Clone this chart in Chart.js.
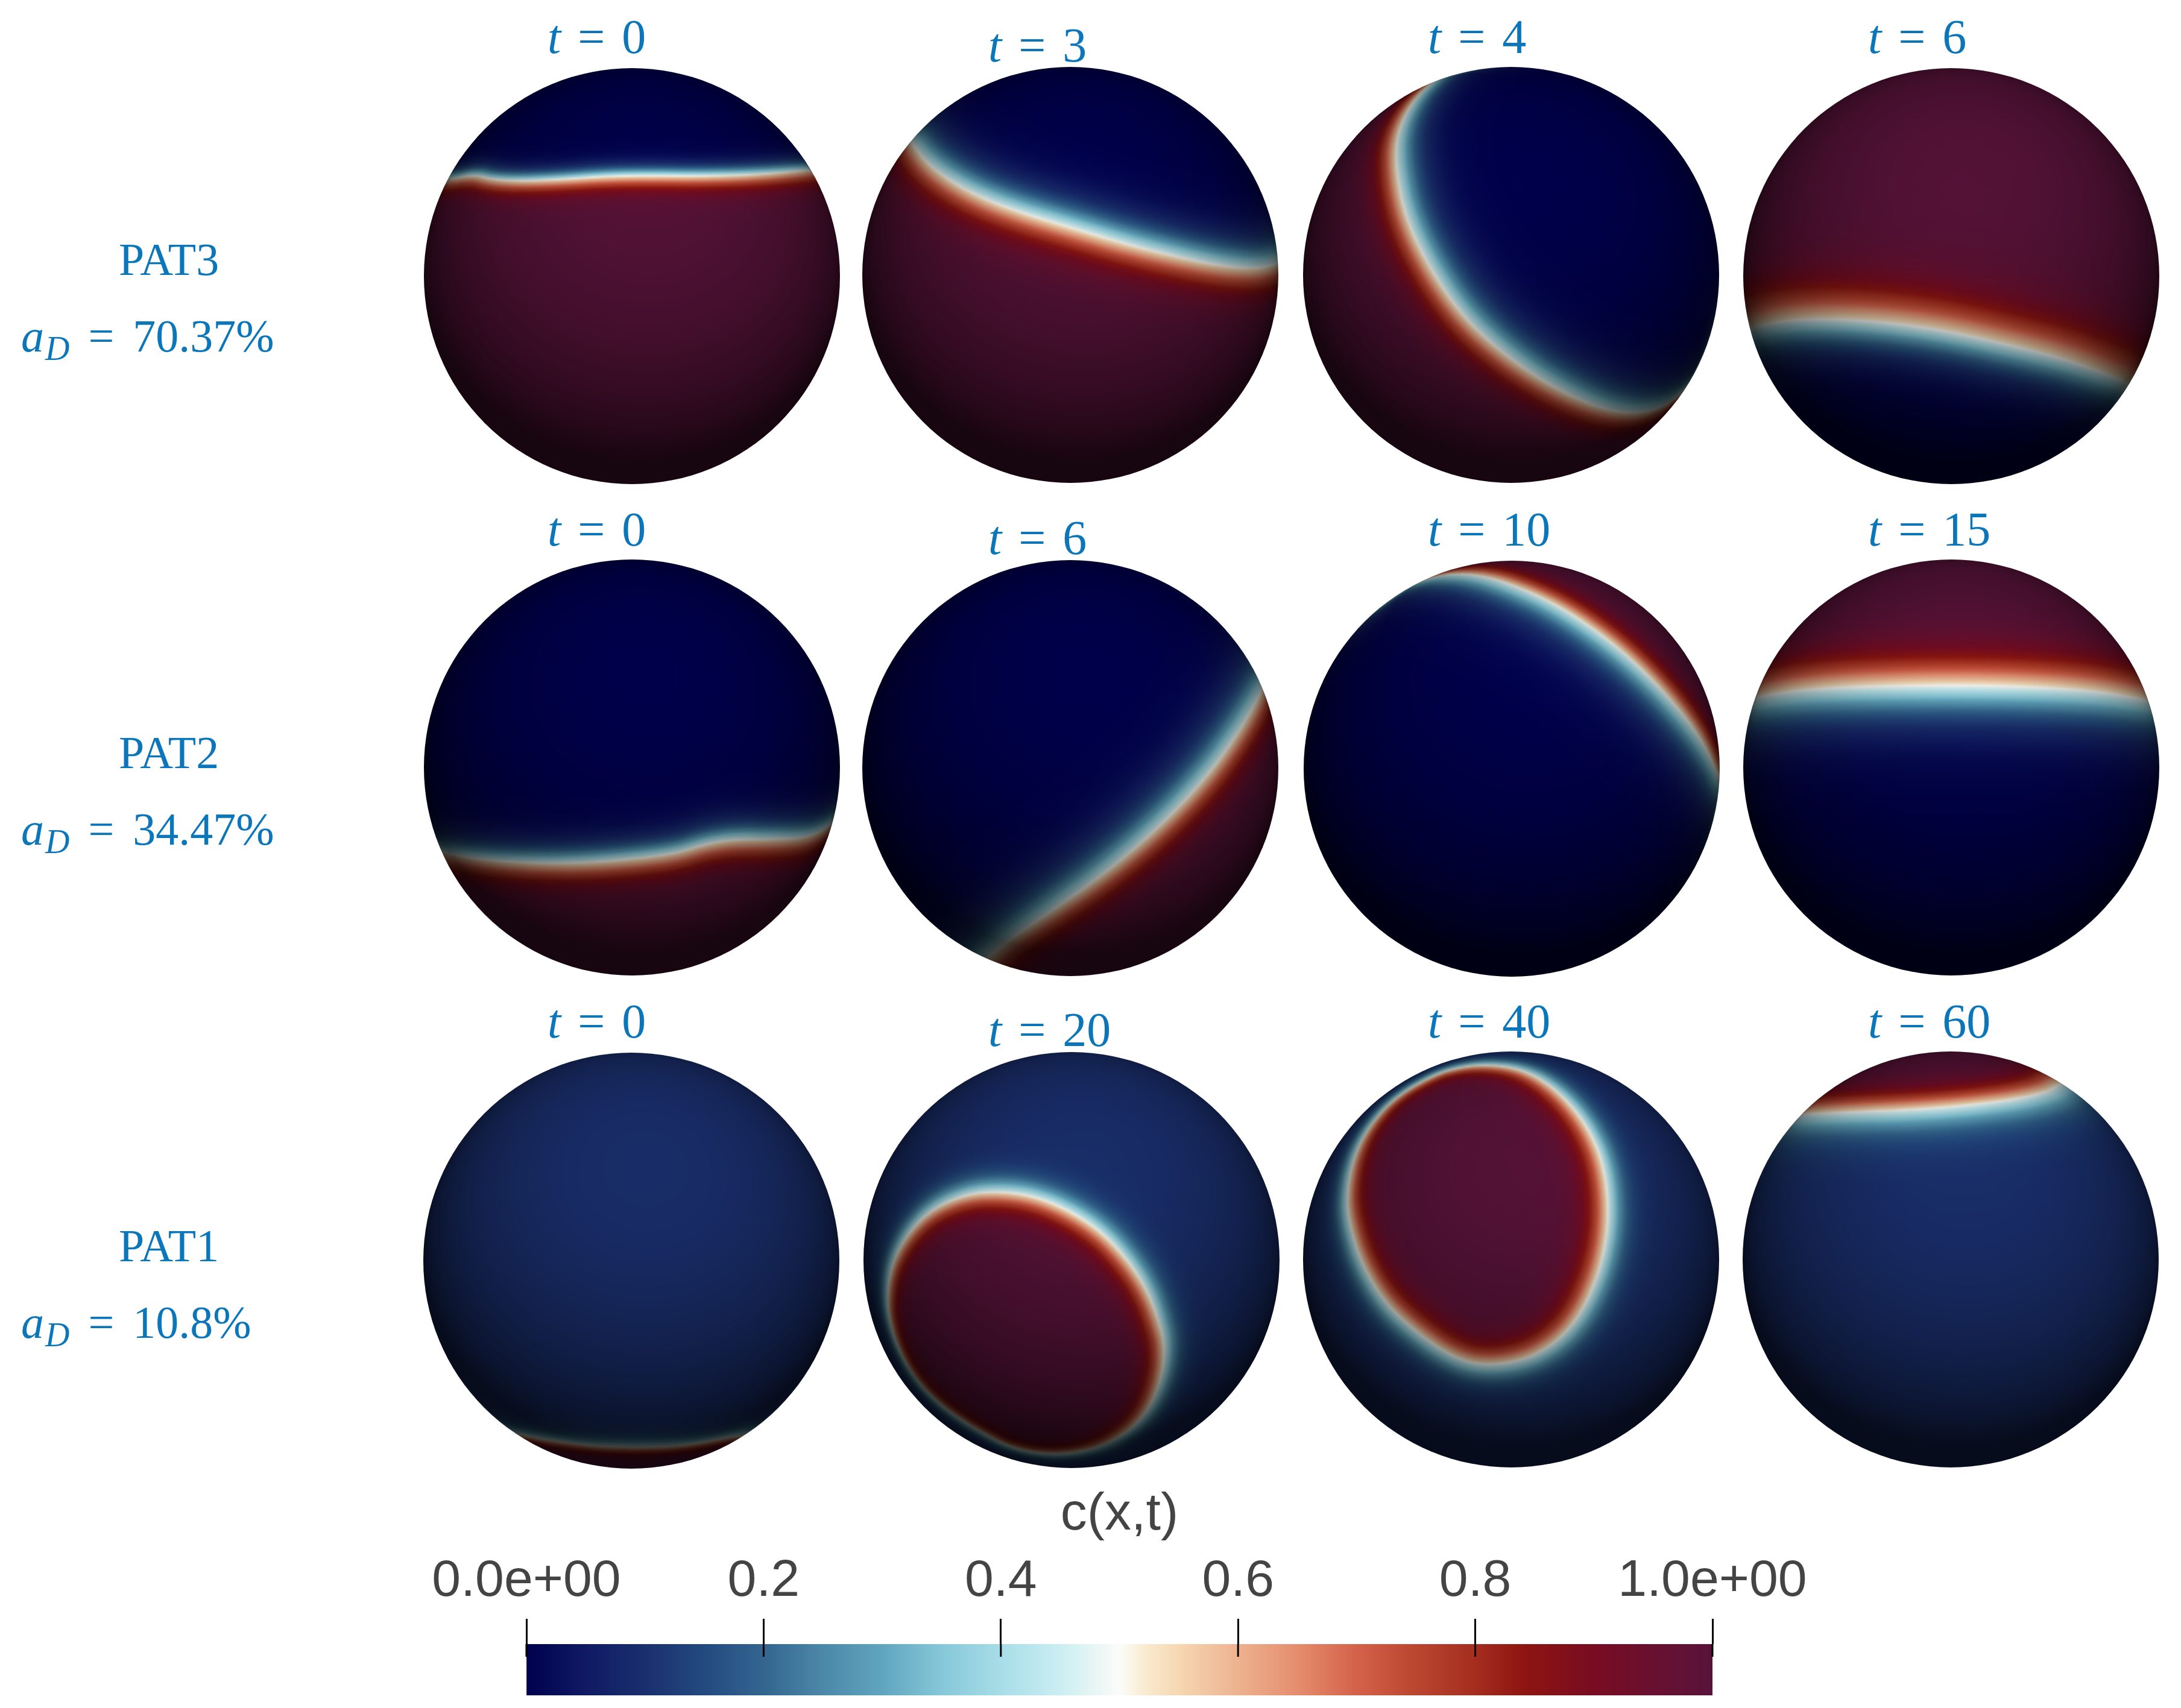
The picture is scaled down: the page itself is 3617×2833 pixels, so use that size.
<!DOCTYPE html>
<html>
<head>
<meta charset="utf-8">
<title>c(x,t) on the sphere</title>
<script src="https://cdn.jsdelivr.net/npm/chart.js@4/dist/chart.umd.min.js"></script>
<style>
    html, body { margin: 0; padding: 0; background: #fff; }
    #page { position: relative; width: 3617px; height: 2833px; overflow: hidden; }
    .globe { position: absolute; width: 690px; height: 690px; }
    .label { position: absolute; color: #0b76b9; font-family: "Liberation Serif", serif; font-size: 76px; line-height: 100px; white-space: pre; word-spacing: 12px; }
    .label.time { font-size: 80px; word-spacing: 8px; }
    .label sub { font-size: 56px; line-height: 0; vertical-align: baseline; position: relative; top: 14px; font-style: italic; margin-left: 2px; }
    #colorbar { position: absolute; left: 600px; top: 2460px; }
</style>
</head>
<body>
<div id="page"></div>
<script>
// Row labels, top row first
const patients = ['PAT3', 'PAT2', 'PAT1'];
const damagedAreas = ['70.37%', '34.47%', '10.8%'];
const times = [
    [0, 3, 4, 6],
    [0, 6, 10, 15],
    [0, 20, 40, 60]
];

// Background concentration of each row
const backgroundLevels = [0, 0, 0.1];

// The c = 0.5 front on each sphere (unit disc, y up)
const pat3Fronts = [
    [[-1.2, 0.44], [-0.875, 0.464], [-0.764, 0.487], [-0.667, 0.464], [-0.542, 0.457], [-0.347, 0.464], [-0.125, 0.48], [0.097, 0.483], [0.319, 0.48], [0.597, 0.487], [0.861, 0.51], [1.2, 0.53]],
    [[-1.0, 0.95], [-0.764, 0.636], [-0.694, 0.541], [-0.579, 0.452], [-0.426, 0.369], [-0.235, 0.298], [0.02, 0.222], [0.276, 0.145], [0.531, 0.082], [0.722, 0.043], [0.888, 0.028], [0.99, 0.05], [1.2, 0.15]],
    [[-0.2, 1.15], [-0.35, 0.951], [-0.475, 0.838], [-0.553, 0.671], [-0.553, 0.489], [-0.503, 0.261], [-0.392, 0.033], [-0.239, -0.194], [-0.044, -0.376], [0.178, -0.528], [0.4, -0.634], [0.567, -0.668], [0.706, -0.649], [0.817, -0.574], [1.1, -0.3]],
    [[-1.2, -0.28], [-0.969, -0.25], [-0.802, -0.212], [-0.579, -0.205], [-0.329, -0.22], [-0.05, -0.258], [0.228, -0.319], [0.507, -0.387], [0.702, -0.455], [0.855, -0.516], [1.2, -0.72]]
];
const pat2Fronts = [
    [[-1.2, -0.38], [-0.911, -0.405], [-0.786, -0.435], [-0.564, -0.457], [-0.286, -0.462], [-0.008, -0.442], [0.214, -0.413], [0.353, -0.368], [0.492, -0.346], [0.658, -0.346], [0.825, -0.339], [0.908, -0.309], [0.964, -0.265], [1.2, -0.1]],
    [[1.1, 0.8], [0.93, 0.386], [0.825, 0.194], [0.657, -0.043], [0.433, -0.28], [0.156, -0.516], [-0.123, -0.709], [-0.4, -0.901], [-0.6, -1.15]],
    [[-0.6, 0.85], [-0.408, 0.913], [-0.297, 0.938], [-0.131, 0.928], [0.064, 0.861], [0.258, 0.765], [0.481, 0.609], [0.675, 0.432], [0.842, 0.24], [0.939, 0.092], [0.994, -0.041], [1.15, -0.35]],
    [[-1.2, 0.28], [-0.942, 0.337], [-0.747, 0.371], [-0.468, 0.389], [0.006, 0.396], [0.368, 0.389], [0.702, 0.367], [0.953, 0.322], [1.2, 0.26]]
];
const pat1Fronts = [
    [[-1.2, -0.7], [-0.533, -0.836], [-0.394, -0.865], [-0.172, -0.892], [0.05, -0.898], [0.272, -0.888], [0.536, -0.836], [1.2, -0.7]],
    [[-0.337, 0.33], [-0.171, 0.305], [-0.005, 0.235], [0.148, 0.133], [0.276, -0.008], [0.365, -0.148], [0.422, -0.301], [0.448, -0.416], [0.435, -0.556], [0.378, -0.709], [0.276, -0.824], [0.122, -0.907], [-0.082, -0.939], [-0.286, -0.907], [-0.464, -0.811], [-0.617, -0.709], [-0.745, -0.582], [-0.834, -0.429], [-0.879, -0.276], [-0.885, -0.148], [-0.86, -0.008], [-0.783, 0.133], [-0.668, 0.247], [-0.503, 0.318], [-0.337, 0.33]],
    [[-0.12, 0.936], [0.02, 0.921], [0.148, 0.866], [0.276, 0.758], [0.378, 0.617], [0.441, 0.464], [0.467, 0.286], [0.46, 0.107], [0.416, -0.084], [0.327, -0.276], [0.212, -0.403], [0.059, -0.486], [-0.133, -0.511], [-0.286, -0.467], [-0.452, -0.352], [-0.605, -0.212], [-0.719, -0.02], [-0.777, 0.171], [-0.79, 0.311], [-0.758, 0.49], [-0.681, 0.643], [-0.554, 0.783], [-0.362, 0.892], [-0.235, 0.926], [-0.12, 0.936]],
    [[-1.2, 0.68], [-0.733, 0.697], [-0.468, 0.709], [-0.189, 0.719], [0.089, 0.741], [0.368, 0.778], [0.549, 0.837], [0.8, 1.2]]
];

// Corners that close each front around the high concentration side
const pat3Caps = [
    [[1.3, -1.3], [-1.3, -1.3]],
    [[1.3, -1.3], [-1.3, -1.3], [-1.3, 0.95]],
    [[1.3, -1.3], [-1.3, -1.3], [-1.3, 1.3]],
    [[1.3, 1.3], [-1.3, 1.3]]
];
const pat2Caps = [
    [[1.3, -1.3], [-1.3, -1.3]],
    [[1.3, -1.3], [1.3, 0.8]],
    [[1.3, -0.35], [1.3, 1.3], [-0.6, 1.3]],
    [[1.3, 1.3], [-1.3, 1.3]]
];
const pat1Caps = [
    [[1.3, -1.3], [-1.3, -1.3]],
    [],
    [],
    [[0.8, 1.3], [-1.3, 1.3]]
];

// Front widths on the surface, high and low side
const pat3Widths = [[0.08, 0.065], [0.13, 0.14], [0.13, 0.15], [0.19, 0.16]];
const pat2Widths = [[0.12, 0.1], [0.14, 0.16], [0.15, 0.19], [0.19, 0.19]];
const pat1Widths = [[0.1, 0.09], [0.1, 0.09], [0.12, 0.11], [0.16, 0.16]];

const frontsByRow = [pat3Fronts, pat2Fronts, pat1Fronts];
const capsByRow = [pat3Caps, pat2Caps, pat1Caps];
const widthsByRow = [pat3Widths, pat2Widths, pat1Widths];

// Colour bar
const colorbarTicks = [0, 0.2, 0.4, 0.6, 0.8, 1];
const colorbarTickLabels = ['0.0e+00', '0.2', '0.4', '0.6', '0.8', '1.0e+00'];
const colorPositions = [0, 0.05, 0.1, 0.15, 0.2, 0.25, 0.3, 0.35, 0.4, 0.45, 0.48, 0.5, 0.52, 0.55, 0.6, 0.65, 0.7, 0.75, 0.8, 0.84, 0.9, 0.95, 1];
const colorValues = ['#00004f', '#0f1a63', '#1a2f6e', '#234a80', '#33658f', '#4c88a8', '#60a5bf', '#86c8d9', '#a8dde8', '#cbeef2', '#e8f6f4', '#fcfcfa', '#faecd2', '#f6d7b2', '#eeb28f', '#e58d6e', '#d4614a', '#bb4630', '#a42d1f', '#8e1511', '#780c22', '#691030', '#58133a'];

// Sphere centres on the page
const columnCenters = [[1048, 1775, 2506, 3236], [1048, 1775, 2507, 3236], [1047, 1777, 2506, 3235]];
const rowCenters = [[458, 456, 456, 458], [1273, 1274, 1275, 1273], [2091, 2090, 2089, 2089]];
const timeLabelLeft = [908, 1639, 2368, 3098];
const timeLabelBaseline = [[88, 102, 88, 88], [905, 919, 905, 905], [1721, 1735, 1721, 1721]];
const rowLabelBaseline = [456, 1274, 2092];
const areaLabelBaseline = [583, 1401, 2219];

const page = document.getElementById('page');
const LIGHT = [0.07, 0.45, 0.89];

const colorLut = (() => {
    const rgb = colorValues.map(c => [1, 3, 5].map(i => parseInt(c.substr(i, 2), 16)));
    const lut = [];
    for (let n = 0; n <= 1000; n++) {
        const c = n / 1000;
        let i = 0;
        while (i < colorPositions.length - 2 && c > colorPositions[i + 1]) i++;
        const k = (c - colorPositions[i]) / (colorPositions[i + 1] - colorPositions[i]);
        lut.push(rgb[i].map((v, j) => v + (rgb[i + 1][j] - v) * k));
    }
    return lut;
})();

// Rounds the polyline, closed loops stay closed
const smoothFront = (points) => {
    let line = points.map(p => [p.x, p.y]);
    const last = line[line.length - 1];
    const closed = line[0][0] === last[0] && line[0][1] === last[1];
    for (let pass = 0; pass < 3; pass++) {
        const next = closed ? [] : [line[0]];
        for (let i = 0; i < line.length - 1; i++) {
            const a = line[i], b = line[i + 1];
            next.push([a[0] * 0.75 + b[0] * 0.25, a[1] * 0.75 + b[1] * 0.25]);
            next.push([a[0] * 0.25 + b[0] * 0.75, a[1] * 0.25 + b[1] * 0.75]);
        }
        next.push(closed ? next[0] : line[line.length - 1]);
        line = next;
    }
    return line;
};

const insidePolygon = (x, y, poly) => {
    let inside = false;
    for (let i = 0, j = poly.length - 1; i < poly.length; j = i++) {
        const a = poly[i], b = poly[j];
        if ((a[1] > y) !== (b[1] > y) && x < (b[0] - a[0]) * (y - a[1]) / (b[1] - a[1]) + a[0]) inside = !inside;
    }
    return inside;
};

const surfaceZ = (x, y) => Math.sqrt(Math.max(0, 1 - x * x - y * y));

// Distance measured on the sphere, so fronts thin out towards the limb
const distanceToLine = (x, y, z, line) => {
    let best = Infinity;
    for (let i = 0; i < line.length - 1; i++) {
        const a = line[i], b = line[i + 1];
        const dx = b[0] - a[0], dy = b[1] - a[1], dz = b[2] - a[2];
        let t = ((x - a[0]) * dx + (y - a[1]) * dy + (z - a[2]) * dz) / (dx * dx + dy * dy + dz * dz || 1);
        t = Math.max(0, Math.min(1, t));
        const ex = a[0] + t * dx - x, ey = a[1] + t * dy - y, ez = a[2] + t * dz - z;
        const d = ex * ex + ey * ey + ez * ez;
        if (d < best) best = d;
    }
    return Math.sqrt(best);
};

// Paints the concentration field and its shading through the chart's scales
const spherePlugin = {
    id: 'sphereField',
    beforeDatasetsDraw(chart, args, opts) {
        const { ctx, chartArea, scales: { x: xScale, y: yScale } } = chart;
        const w = Math.round(chartArea.width / 2), h = Math.round(chartArea.height / 2);
        const flat = smoothFront(chart.data.datasets[0].data);
        const line = flat.map(p => [p[0], p[1], surfaceZ(p[0], p[1])]);
        const poly = flat.concat(opts.caps);
        const buffer = document.createElement('canvas');
        buffer.width = w;
        buffer.height = h;
        const bctx = buffer.getContext('2d');
        const image = bctx.createImageData(w, h);
        for (let py = 0; py < h; py++) {
            for (let px = 0; px < w; px++) {
                const x = xScale.getValueForPixel(chartArea.left + (px + 0.5) * 2);
                const y = yScale.getValueForPixel(chartArea.top + (py + 0.5) * 2);
                const r2 = x * x + y * y;
                if (r2 > 1.04) continue;
                const nz = surfaceZ(x, y);
                const d = distanceToLine(x, y, nz, line);
                const c = insidePolygon(x, y, poly)
                    ? 0.5 + 0.5 * Math.tanh(d / opts.widths[0])
                    : opts.background + (0.5 - opts.background) * (1 - Math.tanh(d / opts.widths[1]));
                const dot = Math.max(0, x * LIGHT[0] + y * LIGHT[1] + nz * LIGHT[2]);
                const shade = 0.26 + 0.68 * dot;
                const color = colorLut[Math.round(c * 1000)];
                const i = (py * w + px) * 4;
                image.data[i] = color[0] * shade;
                image.data[i + 1] = color[1] * shade;
                image.data[i + 2] = color[2] * shade;
                image.data[i + 3] = 255;
            }
        }
        bctx.putImageData(image, 0, 0);
        ctx.save();
        ctx.beginPath();
        ctx.arc(xScale.getPixelForValue(0), yScale.getPixelForValue(0), chartArea.width / 2, 0, Math.PI * 2);
        ctx.clip();
        ctx.imageSmoothingEnabled = true;
        ctx.imageSmoothingQuality = 'high';
        ctx.drawImage(buffer, chartArea.left, chartArea.top, chartArea.width, chartArea.height);
        ctx.restore();
    }
};

const addLabel = (html, left, baseline, cls) => {
    const el = document.createElement('div');
    el.className = cls ? 'label ' + cls : 'label';
    el.innerHTML = html;
    el.style.left = left + 'px';
    el.style.top = (baseline - (cls ? 77 : 76)) + 'px';
    page.appendChild(el);
};

patients.forEach((name, row) => {
    addLabel(name, 197, rowLabelBaseline[row]);
    addLabel(`<i>a</i><sub>D</sub> = ${damagedAreas[row]}`, 35, areaLabelBaseline[row]);

    times[row].forEach((time, col) => {
        addLabel(`<i>t</i> = ${time}`, timeLabelLeft[col], timeLabelBaseline[row][col], 'time');

        const box = document.createElement('div');
        box.className = 'globe';
        box.style.left = (columnCenters[row][col] - 345) + 'px';
        box.style.top = (rowCenters[row][col] - 345) + 'px';
        const canvas = document.createElement('canvas');
        canvas.width = 690;
        canvas.height = 690;
        box.appendChild(canvas);
        page.appendChild(box);

        new Chart(canvas, {
            type: 'scatter',
            data: {
                datasets: [{
                    label: `${name} t=${time}`,
                    data: frontsByRow[row][col].map(p => ({ x: p[0], y: p[1] })),
                    showLine: false,
                    pointRadius: 0
                }]
            },
            options: {
                responsive: false,
                animation: false,
                devicePixelRatio: 1,
                layout: { padding: 0 },
                scales: {
                    x: { type: 'linear', min: -1, max: 1, display: false },
                    y: { type: 'linear', min: -1, max: 1, display: false }
                },
                plugins: {
                    legend: { display: false },
                    tooltip: { enabled: false },
                    sphereField: {
                        caps: capsByRow[row][col],
                        widths: widthsByRow[row][col],
                        background: backgroundLevels[row]
                    }
                }
            },
            plugins: [spherePlugin]
        });
    });
});

// Colour bar
const barCanvas = document.createElement('canvas');
barCanvas.id = 'colorbar';
page.appendChild(barCanvas);
barCanvas.width = 2500;
barCanvas.height = 360;

// Ticks run a little way into the bar
const tickInsidePlugin = {
    id: 'tickInside',
    afterDatasetsDraw(chart) {
        const { ctx, chartArea, scales: { x } } = chart;
        ctx.save();
        ctx.strokeStyle = '#000';
        ctx.lineWidth = 3;
        colorbarTicks.forEach(t => {
            const px = x.getPixelForValue(t);
            ctx.beginPath();
            ctx.moveTo(px, chartArea.top);
            ctx.lineTo(px, chartArea.top + 21);
            ctx.stroke();
        });
        ctx.restore();
    }
};

new Chart(barCanvas, {
    type: 'bar',
    data: {
        labels: ['c'],
        datasets: [{
            data: [[0, 1]],
            barPercentage: 1,
            categoryPercentage: 1,
            backgroundColor: (ctx) => {
                const area = ctx.chart.chartArea;
                if (!area) return colorValues[0];
                const gradient = ctx.chart.ctx.createLinearGradient(area.left, 0, area.right, 0);
                colorPositions.forEach((p, i) => gradient.addColorStop(p, colorValues[i]));
                return gradient;
            }
        }]
    },
    options: {
        indexAxis: 'y',
        responsive: false,
        animation: false,
        devicePixelRatio: 1,
        layout: { padding: { left: 273, right: 260, top: 0, bottom: 8 } },
        scales: {
            x: {
                type: 'linear',
                position: 'top',
                min: 0,
                max: 1,
                border: { display: false },
                grid: { drawOnChartArea: false, tickLength: 42, tickWidth: 3, tickColor: '#000' },
                afterBuildTicks: (axis) => { axis.ticks = colorbarTicks.map(v => ({ value: v })); },
                // the layout caps an axis at half the canvas, this one needs more room
                afterFit: (axis) => { axis.height = 267; },
                ticks: {
                    autoSkip: false,
                    maxRotation: 0,
                    padding: 10,
                    color: '#444',
                    font: { family: '"Liberation Sans", sans-serif', size: 86 },
                    callback: (value) => colorbarTickLabels[colorbarTicks.indexOf(value)]
                },
                title: {
                    display: true,
                    text: 'c(x,t)',
                    color: '#444',
                    font: { family: '"Liberation Sans", sans-serif', size: 88 },
                    padding: { top: 0, bottom: 10 }
                }
            },
            y: { display: false }
        },
        plugins: { legend: { display: false }, tooltip: { enabled: false } }
    },
    plugins: [tickInsidePlugin]
});
</script>
</body>
</html>
